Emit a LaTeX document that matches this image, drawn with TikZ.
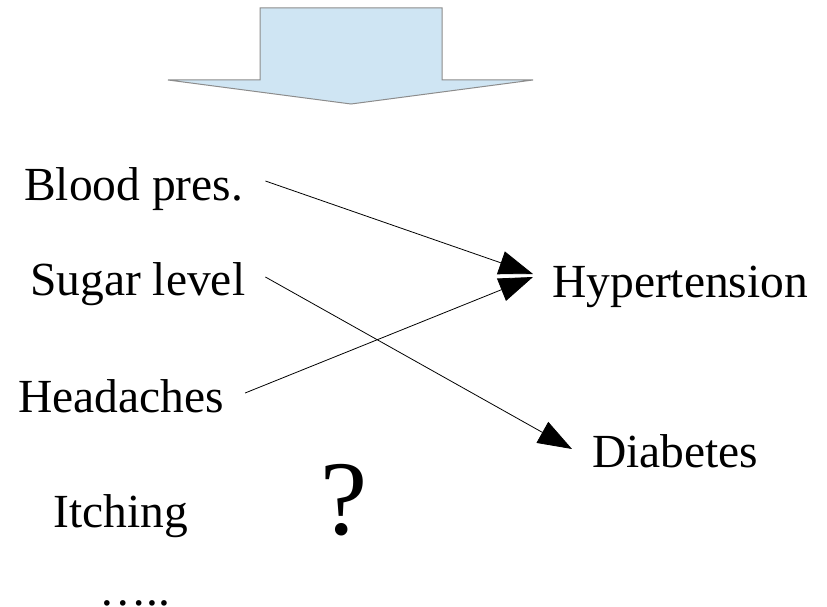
\documentclass[tikz,border=0pt]{standalone}
\usepackage{fontspec}
\setmainfont{Liberation Serif}
\usetikzlibrary{arrows.meta,calc}
\definecolor{arrowfill}{HTML}{CFE5F3}
\definecolor{arrowedge}{HTML}{8C8C8C}
\begin{document}
\begin{tikzpicture}[x=1pt,y=-1pt,
  label/.style={inner sep=0pt,anchor=base west,font=\fontsize{47.5}{57}\selectfont},
  link/.style={line width=0.8pt,-{Triangle[length=34pt,width=24pt]}},
  flow/.style={fill=arrowfill,draw=arrowedge,line width=1pt,line join=miter}]
\useasboundingbox (0,0) rectangle (827,607);

% broad downward arrow at the top
\draw[flow] (260,8) -- (442,8) -- (442,80) -- (533,80) -- (351,104)
  -- (168,80) -- (260,80) -- cycle;

% symptoms
\node[label] (bp) at (24,200) {Blood pres.};
\node[label] (sl) at (30,295) {Sugar level};
\node[label] (hd) at (18,412) {Headaches};
\node[label] (it) at (53,527) {Itching};
\node[label,text depth=0pt] (more) at (99,605) {…..};

% diagnoses
\node[label] (hy) at (552,297) {Hypertension};
\node[label] (db) at (592,467) {Diabetes};

% open question
\node[inner sep=0pt,anchor=base,font=\fontsize{106}{120}\selectfont] (q) at (344,534) {?};

% connector end points
\coordinate (bpout) at ($(bp.base east)+(22,-19)$);
\coordinate (slout) at ($(sl.base east)+(20,-18)$);
\coordinate (hdout) at ($(hd.base east)+(21,-19)$);
\coordinate (hyinA) at ($(hy.base west)+(-19,-23)$);
\coordinate (hyinB) at ($(hy.base west)+(-19,-20)$);
\coordinate (dbin) at ($(db.base west)+(-20,-18)$);

\draw[link] (bpout) -- (hyinA);
\draw[link] (hdout) -- (hyinB);
\draw[link] (slout) -- (dbin);
\end{tikzpicture}
\end{document}
